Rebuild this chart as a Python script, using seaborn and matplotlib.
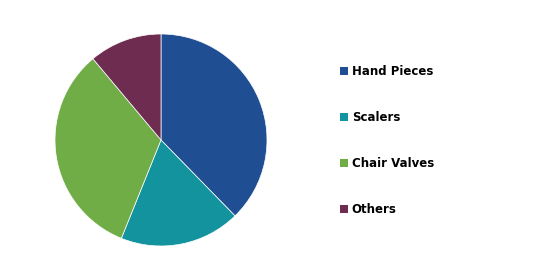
import matplotlib
matplotlib.use("Agg")
import matplotlib.pyplot as plt
import matplotlib.patches as mpatches
import seaborn as sns

categories = ["Hand Pieces", "Scalers", "Chair Valves", "Others"]
shares = [37.7, 18.4, 32.8, 11.1]
colors = ["#1F4E92", "#12939E", "#70AD47", "#6E2C50"]

sns.set_theme(style="white")
plt.rcParams['font.family'] = ['DejaVu Sans']

fig = plt.figure(figsize=(5.46, 2.62), dpi=100)
fig.patch.set_facecolor("white")
ax = fig.add_axes([55/546, 1-246/262, 212/546, 212/262])
ax.pie(shares, colors=colors, startangle=90, counterclock=False,
       wedgeprops=dict(linewidth=0.5, edgecolor="white"))
ax.set_xlim(-1, 1)
ax.set_ylim(-1, 1)
ax.set_aspect("equal")
ax.axis("off")

handles = [mpatches.Patch(facecolor=c, edgecolor="none", label=l) for c, l in zip(colors, categories)]
leg = fig.legend(handles=handles, loc="upper left", bbox_to_anchor=(340/546, 1-65/262),
                 frameon=False, prop=dict(size=8.5, weight="bold"),
                 handlelength=0.7, handleheight=0.7, handletextpad=0.3,
                 labelspacing=2.8, borderpad=0, borderaxespad=0)
for t in leg.get_texts():
    t.set_color("black")
fig.savefig("out.png", dpi=100, facecolor="white")
